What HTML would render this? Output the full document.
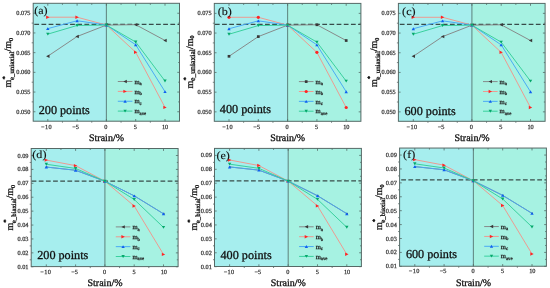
<!DOCTYPE html>
<html><head><meta charset="utf-8"><style>
html,body{margin:0;padding:0;background:#fff;overflow:hidden;}
svg{display:block;will-change:transform;}
text{font-family:"Liberation Serif",serif;fill:#111;text-rendering:geometricPrecision;}
.tl{font-size:6.3px;fill:#3c3c3c;stroke:#3c3c3c;stroke-width:0.25px;}
.pl{font-size:11px;stroke:#111;stroke-width:0.12px;}
.pt{font-size:12.2px;stroke:#111;stroke-width:0.3px;}
.lg{font-size:6.6px;fill:#222;stroke:#222;stroke-width:0.25px;}
.sb{font-size:4.8px;}
.al{font-size:10px;fill:#111;stroke:#111;stroke-width:0.3px;}
.sup{font-size:6.5px;}
.sb2{font-size:6.5px;}
</style></head>
<body><svg width="550" height="288" viewBox="0 0 550 288">
<rect width="550" height="288" fill="#fff"/>
<rect x="33.2" y="3.3" width="73.2" height="117.9" fill="#a6eeee"/>
<rect x="106.4" y="3.3" width="73.1" height="117.9" fill="#a6f2e2"/>
<line x1="106.4" y1="3.3" x2="106.4" y2="121.2" stroke="#628b86" stroke-width="1.1"/>
<line x1="34.3" y1="24.4" x2="179.5" y2="24.4" stroke="#384c4a" stroke-width="1.25" stroke-dasharray="4.76 2.4"/>
<path d="M47.8 121.2v-2.2M47.8 3.3v2.4M77.1 121.2v-2.2M77.1 3.3v2.4M106.4 121.2v-2.2M106.4 3.3v2.4M135.7 121.2v-2.2M135.7 3.3v2.4M165 121.2v-2.2M165 3.3v2.4M62.45 121.2v1.5M62.45 3.3v1.5M91.75 121.2v1.5M91.75 3.3v1.5M121.05 121.2v1.5M121.05 3.3v1.5M150.35 121.2v1.5M150.35 3.3v1.5M33.2 111.75h2.2M179.5 111.75h-2.2M33.2 92.05h2.2M179.5 92.05h-2.2M33.2 72.35h2.2M179.5 72.35h-2.2M33.2 52.65h2.2M179.5 52.65h-2.2M33.2 32.95h2.2M179.5 32.95h-2.2M33.2 13.25h2.2M179.5 13.25h-2.2M33.2 101.9h-1.5M179.5 101.9h-1.3M33.2 82.2h-1.5M179.5 82.2h-1.3M33.2 62.5h-1.5M179.5 62.5h-1.3M33.2 42.8h-1.5M179.5 42.8h-1.3M33.2 23.1h-1.5M179.5 23.1h-1.3" stroke="#566966" stroke-width="0.8" fill="none"/>
<polyline points="47.8,56.2 77.1,36.5 106.4,25.07 135.7,24.68 165,40.44" fill="none" stroke="#858585" stroke-width="0.95"/>
<path d="M46.1 56.2L49.5 54.5L49.5 57.9Z" fill="#383838"/>
<path d="M75.4 36.5L78.8 34.8L78.8 38.2Z" fill="#383838"/>
<path d="M104.7 25.07L108.1 23.37L108.1 26.77Z" fill="#383838"/>
<path d="M134 24.68L137.4 22.98L137.4 26.38Z" fill="#383838"/>
<path d="M163.3 40.44L166.7 38.74L166.7 42.14Z" fill="#383838"/>
<polyline points="47.8,17.19 77.1,17.19 106.4,25.07 135.7,52.26 165,107.42" fill="none" stroke="#f0968c" stroke-width="0.95"/>
<path d="M49.5 17.19L46.1 15.49L46.1 18.89Z" fill="#ff2424"/>
<path d="M78.8 17.19L75.4 15.49L75.4 18.89Z" fill="#ff2424"/>
<path d="M108.1 25.07L104.7 23.37L104.7 26.77Z" fill="#ff2424"/>
<path d="M137.4 52.26L134 50.56L134 53.96Z" fill="#ff2424"/>
<path d="M166.7 107.42L163.3 105.72L163.3 109.12Z" fill="#ff2424"/>
<polyline points="47.8,28.62 77.1,20.74 106.4,25.07 135.7,44.77 165,91.66" fill="none" stroke="#44a6f4" stroke-width="0.95"/>
<path d="M47.8 27.17L49.5 30.07L46.1 30.07Z" fill="#1060f0"/>
<path d="M77.1 19.29L78.8 22.19L75.4 22.19Z" fill="#1060f0"/>
<path d="M106.4 23.62L108.1 26.52L104.7 26.52Z" fill="#1060f0"/>
<path d="M135.7 43.32L137.4 46.22L134 46.22Z" fill="#1060f0"/>
<path d="M165 90.21L166.7 93.11L163.3 93.11Z" fill="#1060f0"/>
<polyline points="47.8,34.13 77.1,25.46 106.4,25.07 135.7,42.01 165,81.02" fill="none" stroke="#34cf9a" stroke-width="0.95"/>
<path d="M47.8 35.58L49.5 32.68L46.1 32.68Z" fill="#05a86a"/>
<path d="M77.1 26.91L78.8 24.01L75.4 24.01Z" fill="#05a86a"/>
<path d="M106.4 26.52L108.1 23.62L104.7 23.62Z" fill="#05a86a"/>
<path d="M135.7 43.46L137.4 40.56L134 40.56Z" fill="#05a86a"/>
<path d="M165 82.47L166.7 79.57L163.3 79.57Z" fill="#05a86a"/>
<rect x="33.2" y="3.3" width="146.3" height="117.9" fill="none" stroke="#566966" stroke-width="1"/>
<text x="34.22" y="13.83" class="pl" textLength="13.43" lengthAdjust="spacingAndGlyphs">(a)</text>
<text x="38.7" y="113.7" class="pt">200 points</text>
<line x1="117.8" y1="81.5" x2="132.4" y2="81.5" stroke="#858585" stroke-width="0.95"/>
<path d="M123.4 81.5L126.8 79.8L126.8 83.2Z" fill="#383838"/>
<text x="134.4" y="83.7" class="lg">m<tspan class="sb" dy="1.6">a</tspan></text>
<line x1="117.8" y1="91.4" x2="132.4" y2="91.4" stroke="#f0968c" stroke-width="0.95"/>
<path d="M126.8 91.4L123.4 89.7L123.4 93.1Z" fill="#ff2424"/>
<text x="134.4" y="93.6" class="lg">m<tspan class="sb" dy="1.6">b</tspan></text>
<line x1="117.8" y1="101.25" x2="132.4" y2="101.25" stroke="#44a6f4" stroke-width="0.95"/>
<path d="M125.1 99.8L126.8 102.7L123.4 102.7Z" fill="#1060f0"/>
<text x="134.4" y="103.45" class="lg">m<tspan class="sb" dy="1.6">c</tspan></text>
<line x1="117.8" y1="111.1" x2="132.4" y2="111.1" stroke="#34cf9a" stroke-width="0.95"/>
<path d="M125.1 112.55L126.8 109.65L123.4 109.65Z" fill="#05a86a"/>
<text x="134.4" y="113.3" class="lg">m<tspan class="sb" dy="1.6">ave</tspan></text>
<text x="30.5" y="113.75" class="tl" text-anchor="end">0.050</text>
<text x="30.5" y="94.05" class="tl" text-anchor="end">0.055</text>
<text x="30.5" y="74.35" class="tl" text-anchor="end">0.060</text>
<text x="30.5" y="54.65" class="tl" text-anchor="end">0.065</text>
<text x="30.5" y="34.95" class="tl" text-anchor="end">0.070</text>
<text x="30.5" y="15.25" class="tl" text-anchor="end">0.075</text>
<text x="46.45" y="129.1" class="tl" text-anchor="middle" style="letter-spacing:0.35px">−10</text>
<text x="75.5" y="129.1" class="tl" text-anchor="middle">−5</text>
<text x="105.95" y="129.1" class="tl" text-anchor="middle">0</text>
<text x="135.45" y="129.1" class="tl" text-anchor="middle">5</text>
<text x="165.1" y="129.1" class="tl" text-anchor="middle">10</text>
<text x="106.5" y="140.6" class="al" text-anchor="middle">Strain/%</text>
<text transform="translate(11.2,87.4) rotate(-90)" class="al">m<tspan style="font-size:6.8px" dy="-4.7">*</tspan><tspan style="font-size:6.85px" dy="7.5" dx="-3.8">e_uniaxial</tspan><tspan dy="-2.8">/m</tspan><tspan style="font-size:6px" dy="1.8">0</tspan></text>
<rect x="214.3" y="3.4" width="73.3" height="117.9" fill="#a6eeee"/>
<rect x="287.6" y="3.4" width="73.3" height="117.9" fill="#a6f2e2"/>
<line x1="287.6" y1="3.4" x2="287.6" y2="121.3" stroke="#628b86" stroke-width="1.1"/>
<line x1="214.9" y1="24.4" x2="360.9" y2="24.4" stroke="#384c4a" stroke-width="1.25" stroke-dasharray="4.76 2.4"/>
<path d="M229 121.3v-2.2M229 3.4v2.4M258.3 121.3v-2.2M258.3 3.4v2.4M287.6 121.3v-2.2M287.6 3.4v2.4M316.9 121.3v-2.2M316.9 3.4v2.4M346.2 121.3v-2.2M346.2 3.4v2.4M243.65 121.3v1.5M243.65 3.4v1.5M272.95 121.3v1.5M272.95 3.4v1.5M302.25 121.3v1.5M302.25 3.4v1.5M331.55 121.3v1.5M331.55 3.4v1.5M214.3 111.85h2.2M360.9 111.85h-2.2M214.3 92.15h2.2M360.9 92.15h-2.2M214.3 72.45h2.2M360.9 72.45h-2.2M214.3 52.75h2.2M360.9 52.75h-2.2M214.3 33.05h2.2M360.9 33.05h-2.2M214.3 13.35h2.2M360.9 13.35h-2.2M214.3 102h-1.5M360.9 102h-1.3M214.3 82.3h-1.5M360.9 82.3h-1.3M214.3 62.6h-1.5M360.9 62.6h-1.3M214.3 42.9h-1.5M360.9 42.9h-1.3M214.3 23.2h-1.5M360.9 23.2h-1.3" stroke="#566966" stroke-width="0.8" fill="none"/>
<polyline points="229,56.3 258.3,36.6 287.6,25.17 316.9,24.78 346.2,40.54" fill="none" stroke="#858585" stroke-width="0.95"/>
<rect x="227.65" y="54.95" width="2.7" height="2.7" fill="#383838"/>
<rect x="256.95" y="35.25" width="2.7" height="2.7" fill="#383838"/>
<rect x="286.25" y="23.82" width="2.7" height="2.7" fill="#383838"/>
<rect x="315.55" y="23.43" width="2.7" height="2.7" fill="#383838"/>
<rect x="344.85" y="39.19" width="2.7" height="2.7" fill="#383838"/>
<polyline points="229,17.29 258.3,17.29 287.6,25.17 316.9,52.36 346.2,107.52" fill="none" stroke="#f0968c" stroke-width="0.95"/>
<circle cx="229" cy="17.29" r="1.6" fill="#ff2424"/>
<circle cx="258.3" cy="17.29" r="1.6" fill="#ff2424"/>
<circle cx="287.6" cy="25.17" r="1.6" fill="#ff2424"/>
<circle cx="316.9" cy="52.36" r="1.6" fill="#ff2424"/>
<circle cx="346.2" cy="107.52" r="1.6" fill="#ff2424"/>
<polyline points="229,28.72 258.3,20.84 287.6,25.17 316.9,44.87 346.2,91.76" fill="none" stroke="#44a6f4" stroke-width="0.95"/>
<path d="M229 27.27L230.7 30.17L227.3 30.17Z" fill="#1060f0"/>
<path d="M258.3 19.39L260 22.29L256.6 22.29Z" fill="#1060f0"/>
<path d="M287.6 23.72L289.3 26.62L285.9 26.62Z" fill="#1060f0"/>
<path d="M316.9 43.42L318.6 46.32L315.2 46.32Z" fill="#1060f0"/>
<path d="M346.2 90.31L347.9 93.21L344.5 93.21Z" fill="#1060f0"/>
<polyline points="229,34.23 258.3,25.56 287.6,25.17 316.9,42.11 346.2,81.12" fill="none" stroke="#34cf9a" stroke-width="0.95"/>
<path d="M229 35.68L230.7 32.78L227.3 32.78Z" fill="#05a86a"/>
<path d="M258.3 27.01L260 24.11L256.6 24.11Z" fill="#05a86a"/>
<path d="M287.6 26.62L289.3 23.72L285.9 23.72Z" fill="#05a86a"/>
<path d="M316.9 43.56L318.6 40.66L315.2 40.66Z" fill="#05a86a"/>
<path d="M346.2 82.57L347.9 79.67L344.5 79.67Z" fill="#05a86a"/>
<rect x="214.3" y="3.4" width="146.6" height="117.9" fill="none" stroke="#566966" stroke-width="1"/>
<text x="217.72" y="15.23" class="pl" textLength="14.11" lengthAdjust="spacingAndGlyphs">(b)</text>
<text x="219.8" y="112.6" class="pt">400 points</text>
<line x1="298.9" y1="81.6" x2="313.5" y2="81.6" stroke="#858585" stroke-width="0.95"/>
<rect x="304.85" y="80.25" width="2.7" height="2.7" fill="#383838"/>
<text x="315.5" y="83.8" class="lg">m<tspan class="sb" dy="1.6">a</tspan></text>
<line x1="298.9" y1="91.5" x2="313.5" y2="91.5" stroke="#f0968c" stroke-width="0.95"/>
<circle cx="306.2" cy="91.5" r="1.6" fill="#ff2424"/>
<text x="315.5" y="93.7" class="lg">m<tspan class="sb" dy="1.6">b</tspan></text>
<line x1="298.9" y1="101.35" x2="313.5" y2="101.35" stroke="#44a6f4" stroke-width="0.95"/>
<path d="M306.2 99.9L307.9 102.8L304.5 102.8Z" fill="#1060f0"/>
<text x="315.5" y="103.55" class="lg">m<tspan class="sb" dy="1.6">c</tspan></text>
<line x1="298.9" y1="111.2" x2="313.5" y2="111.2" stroke="#34cf9a" stroke-width="0.95"/>
<path d="M306.2 112.65L307.9 109.75L304.5 109.75Z" fill="#05a86a"/>
<text x="315.5" y="113.4" class="lg">m<tspan class="sb" dy="1.6">ave</tspan></text>
<text x="211.6" y="113.85" class="tl" text-anchor="end">0.050</text>
<text x="211.6" y="94.15" class="tl" text-anchor="end">0.055</text>
<text x="211.6" y="74.45" class="tl" text-anchor="end">0.060</text>
<text x="211.6" y="54.75" class="tl" text-anchor="end">0.065</text>
<text x="211.6" y="35.05" class="tl" text-anchor="end">0.070</text>
<text x="211.6" y="15.35" class="tl" text-anchor="end">0.075</text>
<text x="227.65" y="129.2" class="tl" text-anchor="middle" style="letter-spacing:0.35px">−10</text>
<text x="256.7" y="129.2" class="tl" text-anchor="middle">−5</text>
<text x="287.15" y="129.2" class="tl" text-anchor="middle">0</text>
<text x="316.65" y="129.2" class="tl" text-anchor="middle">5</text>
<text x="346.3" y="129.2" class="tl" text-anchor="middle">10</text>
<text x="287.7" y="140.7" class="al" text-anchor="middle">Strain/%</text>
<text transform="translate(192.6,88.4) rotate(-90)" class="al">m<tspan style="font-size:6.8px" dy="-4.7">*</tspan><tspan style="font-size:7.7px" dy="7.5" dx="-3.8">e_uniaxial</tspan><tspan dy="-2.8">/m</tspan><tspan style="font-size:6px" dy="1.8">0</tspan></text>
<rect x="398.4" y="3.4" width="73.5" height="117.9" fill="#a6eeee"/>
<rect x="471.9" y="3.4" width="73.2" height="117.9" fill="#a6f2e2"/>
<line x1="471.9" y1="3.4" x2="471.9" y2="121.3" stroke="#628b86" stroke-width="1.1"/>
<line x1="399.8" y1="24.3" x2="545.1" y2="24.3" stroke="#384c4a" stroke-width="1.25" stroke-dasharray="4.76 2.4"/>
<path d="M413.3 121.3v-2.2M413.3 3.4v2.4M442.6 121.3v-2.2M442.6 3.4v2.4M471.9 121.3v-2.2M471.9 3.4v2.4M501.2 121.3v-2.2M501.2 3.4v2.4M530.5 121.3v-2.2M530.5 3.4v2.4M427.95 121.3v1.5M427.95 3.4v1.5M457.25 121.3v1.5M457.25 3.4v1.5M486.55 121.3v1.5M486.55 3.4v1.5M515.85 121.3v1.5M515.85 3.4v1.5M398.4 111.85h2.2M545.1 111.85h-2.2M398.4 92.15h2.2M545.1 92.15h-2.2M398.4 72.45h2.2M545.1 72.45h-2.2M398.4 52.75h2.2M545.1 52.75h-2.2M398.4 33.05h2.2M545.1 33.05h-2.2M398.4 13.35h2.2M545.1 13.35h-2.2M398.4 102h-1.5M545.1 102h-1.3M398.4 82.3h-1.5M545.1 82.3h-1.3M398.4 62.6h-1.5M545.1 62.6h-1.3M398.4 42.9h-1.5M545.1 42.9h-1.3M398.4 23.2h-1.5M545.1 23.2h-1.3" stroke="#566966" stroke-width="0.8" fill="none"/>
<polyline points="413.3,56.3 442.6,36.6 471.9,25.17 501.2,24.78 530.5,40.54" fill="none" stroke="#858585" stroke-width="0.95"/>
<path d="M411.6 56.3L415 54.6L415 58Z" fill="#383838"/>
<path d="M440.9 36.6L444.3 34.9L444.3 38.3Z" fill="#383838"/>
<path d="M470.2 25.17L473.6 23.47L473.6 26.87Z" fill="#383838"/>
<path d="M499.5 24.78L502.9 23.08L502.9 26.48Z" fill="#383838"/>
<path d="M528.8 40.54L532.2 38.84L532.2 42.24Z" fill="#383838"/>
<polyline points="413.3,17.29 442.6,17.29 471.9,25.17 501.2,52.36 530.5,107.52" fill="none" stroke="#f0968c" stroke-width="0.95"/>
<path d="M415 17.29L411.6 15.59L411.6 18.99Z" fill="#ff2424"/>
<path d="M444.3 17.29L440.9 15.59L440.9 18.99Z" fill="#ff2424"/>
<path d="M473.6 25.17L470.2 23.47L470.2 26.87Z" fill="#ff2424"/>
<path d="M502.9 52.36L499.5 50.66L499.5 54.06Z" fill="#ff2424"/>
<path d="M532.2 107.52L528.8 105.82L528.8 109.22Z" fill="#ff2424"/>
<polyline points="413.3,28.72 442.6,20.84 471.9,25.17 501.2,44.87 530.5,91.76" fill="none" stroke="#44a6f4" stroke-width="0.95"/>
<path d="M413.3 27.27L415 30.17L411.6 30.17Z" fill="#1060f0"/>
<path d="M442.6 19.39L444.3 22.29L440.9 22.29Z" fill="#1060f0"/>
<path d="M471.9 23.72L473.6 26.62L470.2 26.62Z" fill="#1060f0"/>
<path d="M501.2 43.42L502.9 46.32L499.5 46.32Z" fill="#1060f0"/>
<path d="M530.5 90.31L532.2 93.21L528.8 93.21Z" fill="#1060f0"/>
<polyline points="413.3,34.23 442.6,25.56 471.9,25.17 501.2,42.11 530.5,81.12" fill="none" stroke="#34cf9a" stroke-width="0.95"/>
<path d="M413.3 35.68L415 32.78L411.6 32.78Z" fill="#05a86a"/>
<path d="M442.6 27.01L444.3 24.11L440.9 24.11Z" fill="#05a86a"/>
<path d="M471.9 26.62L473.6 23.72L470.2 23.72Z" fill="#05a86a"/>
<path d="M501.2 43.56L502.9 40.66L499.5 40.66Z" fill="#05a86a"/>
<path d="M530.5 82.57L532.2 79.67L528.8 79.67Z" fill="#05a86a"/>
<rect x="398.4" y="3.4" width="146.7" height="117.9" fill="none" stroke="#566966" stroke-width="1"/>
<text x="402.12" y="14.83" class="pl" textLength="13.43" lengthAdjust="spacingAndGlyphs">(c)</text>
<text x="404.5" y="115.2" class="pt">600 points</text>
<line x1="483" y1="81.6" x2="497.6" y2="81.6" stroke="#858585" stroke-width="0.95"/>
<path d="M488.6 81.6L492 79.9L492 83.3Z" fill="#383838"/>
<text x="499.6" y="83.8" class="lg">m<tspan class="sb" dy="1.6">a</tspan></text>
<line x1="483" y1="91.5" x2="497.6" y2="91.5" stroke="#f0968c" stroke-width="0.95"/>
<path d="M492 91.5L488.6 89.8L488.6 93.2Z" fill="#ff2424"/>
<text x="499.6" y="93.7" class="lg">m<tspan class="sb" dy="1.6">b</tspan></text>
<line x1="483" y1="101.35" x2="497.6" y2="101.35" stroke="#44a6f4" stroke-width="0.95"/>
<path d="M490.3 99.9L492 102.8L488.6 102.8Z" fill="#1060f0"/>
<text x="499.6" y="103.55" class="lg">m<tspan class="sb" dy="1.6">c</tspan></text>
<line x1="483" y1="111.2" x2="497.6" y2="111.2" stroke="#34cf9a" stroke-width="0.95"/>
<path d="M490.3 112.65L492 109.75L488.6 109.75Z" fill="#05a86a"/>
<text x="499.6" y="113.4" class="lg">m<tspan class="sb" dy="1.6">ave</tspan></text>
<text x="395.7" y="113.85" class="tl" text-anchor="end">0.050</text>
<text x="395.7" y="94.15" class="tl" text-anchor="end">0.055</text>
<text x="395.7" y="74.45" class="tl" text-anchor="end">0.060</text>
<text x="395.7" y="54.75" class="tl" text-anchor="end">0.065</text>
<text x="395.7" y="35.05" class="tl" text-anchor="end">0.070</text>
<text x="395.7" y="15.35" class="tl" text-anchor="end">0.075</text>
<text x="411.95" y="129.2" class="tl" text-anchor="middle" style="letter-spacing:0.35px">−10</text>
<text x="441" y="129.2" class="tl" text-anchor="middle">−5</text>
<text x="471.45" y="129.2" class="tl" text-anchor="middle">0</text>
<text x="500.95" y="129.2" class="tl" text-anchor="middle">5</text>
<text x="530.6" y="129.2" class="tl" text-anchor="middle">10</text>
<text x="472" y="140.7" class="al" text-anchor="middle">Strain/%</text>
<text transform="translate(376.7,87.1) rotate(-90)" class="al">m<tspan style="font-size:6.8px" dy="-4.7">*</tspan><tspan style="font-size:6.85px" dy="7.5" dx="-3.8">e_uniaxial</tspan><tspan dy="-2.8">/m</tspan><tspan style="font-size:6px" dy="1.8">0</tspan></text>
<rect x="31.2" y="148.5" width="73.7" height="118.1" fill="#a6eeee"/>
<rect x="104.9" y="148.5" width="73.2" height="118.1" fill="#a6f2e2"/>
<line x1="104.9" y1="148.5" x2="104.9" y2="266.6" stroke="#628b86" stroke-width="1.1"/>
<line x1="31.6" y1="181" x2="178.1" y2="181" stroke="#384c4a" stroke-width="1.25" stroke-dasharray="4.76 2.4"/>
<path d="M46.3 266.6v-2.2M46.3 148.5v2.4M75.6 266.6v-2.2M75.6 148.5v2.4M104.9 266.6v-2.2M104.9 148.5v2.4M134.2 266.6v-2.2M134.2 148.5v2.4M163.5 266.6v-2.2M163.5 148.5v2.4M60.95 266.6v1.5M60.95 148.5v1.5M90.25 266.6v1.5M90.25 148.5v1.5M119.55 266.6v1.5M119.55 148.5v1.5M148.85 266.6v1.5M148.85 148.5v1.5M31.2 266.78h2.2M178.1 266.78h-2.2M31.2 252.87h2.2M178.1 252.87h-2.2M31.2 238.96h2.2M178.1 238.96h-2.2M31.2 225.05h2.2M178.1 225.05h-2.2M31.2 211.14h2.2M178.1 211.14h-2.2M31.2 197.23h2.2M178.1 197.23h-2.2M31.2 183.32h2.2M178.1 183.32h-2.2M31.2 169.41h2.2M178.1 169.41h-2.2M31.2 155.5h2.2M178.1 155.5h-2.2M31.2 259.82h-1.5M178.1 259.82h-1.3M31.2 245.92h-1.5M178.1 245.92h-1.3M31.2 232h-1.5M178.1 232h-1.3M31.2 218.09h-1.5M178.1 218.09h-1.3M31.2 204.19h-1.5M178.1 204.19h-1.3M31.2 190.27h-1.5M178.1 190.27h-1.3M31.2 176.37h-1.5M178.1 176.37h-1.3M31.2 162.45h-1.5M178.1 162.45h-1.3" stroke="#566966" stroke-width="0.8" fill="none"/>
<polyline points="46.3,167.05 75.6,170.24 104.9,181.23 134.2,195.84 163.5,213.78" fill="none" stroke="#858585" stroke-width="0.95"/>
<path d="M45.37 167.05L47.24 166.11L47.24 167.98Z" fill="#383838"/>
<path d="M74.67 170.24L76.54 169.31L76.54 171.18Z" fill="#383838"/>
<path d="M103.97 181.23L105.84 180.3L105.84 182.17Z" fill="#383838"/>
<path d="M133.27 195.84L135.14 194.9L135.14 196.77Z" fill="#383838"/>
<path d="M162.56 213.78L164.44 212.85L164.44 214.72Z" fill="#383838"/>
<polyline points="46.3,160.09 75.6,165.65 104.9,181.23 134.2,205.99 163.5,254.4" fill="none" stroke="#f0968c" stroke-width="0.95"/>
<path d="M48 160.09L44.6 158.39L44.6 161.79Z" fill="#ff2424"/>
<path d="M77.3 165.65L73.9 163.95L73.9 167.35Z" fill="#ff2424"/>
<path d="M106.6 181.23L103.2 179.53L103.2 182.93Z" fill="#ff2424"/>
<path d="M135.9 205.99L132.5 204.29L132.5 207.69Z" fill="#ff2424"/>
<path d="M165.2 254.4L161.8 252.7L161.8 256.1Z" fill="#ff2424"/>
<polyline points="46.3,167.05 75.6,170.24 104.9,181.23 134.2,195.84 163.5,213.78" fill="none" stroke="#44a6f4" stroke-width="0.95"/>
<path d="M46.3 165.6L48 168.5L44.6 168.5Z" fill="#1060f0"/>
<path d="M75.6 168.79L77.3 171.69L73.9 171.69Z" fill="#1060f0"/>
<path d="M104.9 179.78L106.6 182.68L103.2 182.68Z" fill="#1060f0"/>
<path d="M134.2 194.39L135.9 197.29L132.5 197.29Z" fill="#1060f0"/>
<path d="M163.5 212.33L165.2 215.23L161.8 215.23Z" fill="#1060f0"/>
<polyline points="46.3,164.26 75.6,168.44 104.9,181.23 134.2,199.46 163.5,227.41" fill="none" stroke="#34cf9a" stroke-width="0.95"/>
<path d="M46.3 165.71L48 162.81L44.6 162.81Z" fill="#05a86a"/>
<path d="M75.6 169.89L77.3 166.99L73.9 166.99Z" fill="#05a86a"/>
<path d="M104.9 182.68L106.6 179.78L103.2 179.78Z" fill="#05a86a"/>
<path d="M134.2 200.91L135.9 198.01L132.5 198.01Z" fill="#05a86a"/>
<path d="M163.5 228.86L165.2 225.96L161.8 225.96Z" fill="#05a86a"/>
<rect x="31.2" y="148.5" width="146.9" height="118.1" fill="none" stroke="#566966" stroke-width="1"/>
<text x="32.32" y="157.83" class="pl" textLength="14.11" lengthAdjust="spacingAndGlyphs">(d)</text>
<text x="37.2" y="258.8" class="pt">200 points</text>
<line x1="115.8" y1="226.9" x2="130.4" y2="226.9" stroke="#858585" stroke-width="0.95"/>
<path d="M121.4 226.9L124.8 225.2L124.8 228.6Z" fill="#383838"/>
<text x="132.4" y="229.1" class="lg">m<tspan class="sb" dy="1.6">a</tspan></text>
<line x1="115.8" y1="236.8" x2="130.4" y2="236.8" stroke="#f0968c" stroke-width="0.95"/>
<path d="M124.8 236.8L121.4 235.1L121.4 238.5Z" fill="#ff2424"/>
<text x="132.4" y="239" class="lg">m<tspan class="sb" dy="1.6">b</tspan></text>
<line x1="115.8" y1="246.65" x2="130.4" y2="246.65" stroke="#44a6f4" stroke-width="0.95"/>
<path d="M123.1 245.2L124.8 248.1L121.4 248.1Z" fill="#1060f0"/>
<text x="132.4" y="248.85" class="lg">m<tspan class="sb" dy="1.6">c</tspan></text>
<line x1="115.8" y1="256.5" x2="130.4" y2="256.5" stroke="#34cf9a" stroke-width="0.95"/>
<path d="M123.1 257.95L124.8 255.05L121.4 255.05Z" fill="#05a86a"/>
<text x="132.4" y="258.7" class="lg">m<tspan class="sb" dy="1.6">ave</tspan></text>
<text x="28.5" y="268.78" class="tl" text-anchor="end">0.01</text>
<text x="28.5" y="254.87" class="tl" text-anchor="end">0.02</text>
<text x="28.5" y="240.96" class="tl" text-anchor="end">0.03</text>
<text x="28.5" y="227.05" class="tl" text-anchor="end">0.04</text>
<text x="28.5" y="213.14" class="tl" text-anchor="end">0.05</text>
<text x="28.5" y="199.23" class="tl" text-anchor="end">0.06</text>
<text x="28.5" y="185.32" class="tl" text-anchor="end">0.07</text>
<text x="28.5" y="171.41" class="tl" text-anchor="end">0.08</text>
<text x="28.5" y="157.5" class="tl" text-anchor="end">0.09</text>
<text x="45.8" y="273.8" class="tl" text-anchor="middle" style="letter-spacing:0.35px">−10</text>
<text x="74.55" y="273.8" class="tl" text-anchor="middle">−5</text>
<text x="104.55" y="273.8" class="tl" text-anchor="middle">0</text>
<text x="134" y="273.8" class="tl" text-anchor="middle">5</text>
<text x="163.8" y="273.8" class="tl" text-anchor="middle">10</text>
<text x="105" y="286" class="al" text-anchor="middle">Strain/%</text>
<text transform="translate(13,230.6) rotate(-90)" class="al">m<tspan style="font-size:6.8px" dy="-4.7">*</tspan><tspan style="font-size:6.75px" dy="7.5" dx="-3.8">e_biaxial</tspan><tspan dy="-2.8">/m</tspan><tspan style="font-size:6px" dy="1.8">0</tspan></text>
<rect x="214.5" y="148.4" width="73.7" height="118.1" fill="#a6eeee"/>
<rect x="288.2" y="148.4" width="73.2" height="118.1" fill="#a6f2e2"/>
<line x1="288.2" y1="148.4" x2="288.2" y2="266.5" stroke="#628b86" stroke-width="1.1"/>
<line x1="215.2" y1="180.85" x2="361.4" y2="180.85" stroke="#384c4a" stroke-width="1.25" stroke-dasharray="4.76 2.4"/>
<path d="M229.6 266.5v-2.2M229.6 148.4v2.4M258.9 266.5v-2.2M258.9 148.4v2.4M288.2 266.5v-2.2M288.2 148.4v2.4M317.5 266.5v-2.2M317.5 148.4v2.4M346.8 266.5v-2.2M346.8 148.4v2.4M244.25 266.5v1.5M244.25 148.4v1.5M273.55 266.5v1.5M273.55 148.4v1.5M302.85 266.5v1.5M302.85 148.4v1.5M332.15 266.5v1.5M332.15 148.4v1.5M214.5 266.68h2.2M361.4 266.68h-2.2M214.5 252.77h2.2M361.4 252.77h-2.2M214.5 238.86h2.2M361.4 238.86h-2.2M214.5 224.95h2.2M361.4 224.95h-2.2M214.5 211.04h2.2M361.4 211.04h-2.2M214.5 197.13h2.2M361.4 197.13h-2.2M214.5 183.22h2.2M361.4 183.22h-2.2M214.5 169.31h2.2M361.4 169.31h-2.2M214.5 155.4h2.2M361.4 155.4h-2.2M214.5 259.73h-1.5M361.4 259.73h-1.3M214.5 245.81h-1.5M361.4 245.81h-1.3M214.5 231.91h-1.5M361.4 231.91h-1.3M214.5 218h-1.5M361.4 218h-1.3M214.5 204.09h-1.5M361.4 204.09h-1.3M214.5 190.18h-1.5M361.4 190.18h-1.3M214.5 176.27h-1.5M361.4 176.27h-1.3M214.5 162.35h-1.5M361.4 162.35h-1.3" stroke="#566966" stroke-width="0.8" fill="none"/>
<polyline points="229.6,166.95 258.9,170.14 288.2,181.13 317.5,195.74 346.8,213.68" fill="none" stroke="#858585" stroke-width="0.95"/>
<path d="M228.66 166.95L230.53 166.01L230.53 167.88Z" fill="#383838"/>
<path d="M257.96 170.14L259.83 169.21L259.83 171.08Z" fill="#383838"/>
<path d="M287.26 181.13L289.13 180.2L289.13 182.07Z" fill="#383838"/>
<path d="M316.56 195.74L318.44 194.8L318.44 196.67Z" fill="#383838"/>
<path d="M345.87 213.68L347.74 212.75L347.74 214.62Z" fill="#383838"/>
<polyline points="229.6,159.99 258.9,165.55 288.2,181.13 317.5,205.89 346.8,254.3" fill="none" stroke="#f0968c" stroke-width="0.95"/>
<path d="M231.3 159.99L227.9 158.29L227.9 161.69Z" fill="#ff2424"/>
<path d="M260.6 165.55L257.2 163.85L257.2 167.25Z" fill="#ff2424"/>
<path d="M289.9 181.13L286.5 179.43L286.5 182.83Z" fill="#ff2424"/>
<path d="M319.2 205.89L315.8 204.19L315.8 207.59Z" fill="#ff2424"/>
<path d="M348.5 254.3L345.1 252.6L345.1 256Z" fill="#ff2424"/>
<polyline points="229.6,166.95 258.9,170.14 288.2,181.13 317.5,195.74 346.8,213.68" fill="none" stroke="#44a6f4" stroke-width="0.95"/>
<path d="M229.6 165.5L231.3 168.4L227.9 168.4Z" fill="#1060f0"/>
<path d="M258.9 168.69L260.6 171.59L257.2 171.59Z" fill="#1060f0"/>
<path d="M288.2 179.68L289.9 182.58L286.5 182.58Z" fill="#1060f0"/>
<path d="M317.5 194.29L319.2 197.19L315.8 197.19Z" fill="#1060f0"/>
<path d="M346.8 212.23L348.5 215.13L345.1 215.13Z" fill="#1060f0"/>
<polyline points="229.6,164.16 258.9,168.34 288.2,181.13 317.5,199.36 346.8,227.31" fill="none" stroke="#34cf9a" stroke-width="0.95"/>
<path d="M229.6 165.61L231.3 162.71L227.9 162.71Z" fill="#05a86a"/>
<path d="M258.9 169.79L260.6 166.89L257.2 166.89Z" fill="#05a86a"/>
<path d="M288.2 182.58L289.9 179.68L286.5 179.68Z" fill="#05a86a"/>
<path d="M317.5 200.81L319.2 197.91L315.8 197.91Z" fill="#05a86a"/>
<path d="M346.8 228.76L348.5 225.86L345.1 225.86Z" fill="#05a86a"/>
<rect x="214.5" y="148.4" width="146.9" height="118.1" fill="none" stroke="#566966" stroke-width="1"/>
<text x="216.42" y="158.83" class="pl" textLength="13.43" lengthAdjust="spacingAndGlyphs">(e)</text>
<text x="220.5" y="259" class="pt">400 points</text>
<line x1="299.1" y1="226.8" x2="313.7" y2="226.8" stroke="#858585" stroke-width="0.95"/>
<path d="M304.7 226.8L308.1 225.1L308.1 228.5Z" fill="#383838"/>
<text x="315.7" y="229" class="lg">m<tspan class="sb" dy="1.6">a</tspan></text>
<line x1="299.1" y1="236.7" x2="313.7" y2="236.7" stroke="#f0968c" stroke-width="0.95"/>
<path d="M308.1 236.7L304.7 235L304.7 238.4Z" fill="#ff2424"/>
<text x="315.7" y="238.9" class="lg">m<tspan class="sb" dy="1.6">b</tspan></text>
<line x1="299.1" y1="246.55" x2="313.7" y2="246.55" stroke="#44a6f4" stroke-width="0.95"/>
<path d="M306.4 245.1L308.1 248L304.7 248Z" fill="#1060f0"/>
<text x="315.7" y="248.75" class="lg">m<tspan class="sb" dy="1.6">c</tspan></text>
<line x1="299.1" y1="256.4" x2="313.7" y2="256.4" stroke="#34cf9a" stroke-width="0.95"/>
<path d="M306.4 257.85L308.1 254.95L304.7 254.95Z" fill="#05a86a"/>
<text x="315.7" y="258.6" class="lg">m<tspan class="sb" dy="1.6">ave</tspan></text>
<text x="211.8" y="268.68" class="tl" text-anchor="end">0.01</text>
<text x="211.8" y="254.77" class="tl" text-anchor="end">0.02</text>
<text x="211.8" y="240.86" class="tl" text-anchor="end">0.03</text>
<text x="211.8" y="226.95" class="tl" text-anchor="end">0.04</text>
<text x="211.8" y="213.04" class="tl" text-anchor="end">0.05</text>
<text x="211.8" y="199.13" class="tl" text-anchor="end">0.06</text>
<text x="211.8" y="185.22" class="tl" text-anchor="end">0.07</text>
<text x="211.8" y="171.31" class="tl" text-anchor="end">0.08</text>
<text x="211.8" y="157.4" class="tl" text-anchor="end">0.09</text>
<text x="229.1" y="273.7" class="tl" text-anchor="middle" style="letter-spacing:0.35px">−10</text>
<text x="257.85" y="273.7" class="tl" text-anchor="middle">−5</text>
<text x="287.85" y="273.7" class="tl" text-anchor="middle">0</text>
<text x="317.3" y="273.7" class="tl" text-anchor="middle">5</text>
<text x="347.1" y="273.7" class="tl" text-anchor="middle">10</text>
<text x="288.3" y="285.9" class="al" text-anchor="middle">Strain/%</text>
<text transform="translate(196.7,230.6) rotate(-90)" class="al">m<tspan style="font-size:6.8px" dy="-4.7">*</tspan><tspan style="font-size:6.75px" dy="7.5" dx="-3.8">e_biaxial</tspan><tspan dy="-2.8">/m</tspan><tspan style="font-size:6px" dy="1.8">0</tspan></text>
<rect x="399.6" y="148.05" width="73.8" height="118.2" fill="#a6eeee"/>
<rect x="473.4" y="148.05" width="73" height="118.2" fill="#a6f2e2"/>
<line x1="473.4" y1="148.05" x2="473.4" y2="266.25" stroke="#628b86" stroke-width="1.1"/>
<line x1="401.2" y1="179.75" x2="546.4" y2="179.75" stroke="#384c4a" stroke-width="1.25" stroke-dasharray="4.76 2.4"/>
<path d="M414.8 266.25v-2.2M414.8 148.05v2.4M444.1 266.25v-2.2M444.1 148.05v2.4M473.4 266.25v-2.2M473.4 148.05v2.4M502.7 266.25v-2.2M502.7 148.05v2.4M532 266.25v-2.2M532 148.05v2.4M429.45 266.25v1.5M429.45 148.05v1.5M458.75 266.25v1.5M458.75 148.05v1.5M488.05 266.25v1.5M488.05 148.05v1.5M517.35 266.25v1.5M517.35 148.05v1.5M399.6 266.33h2.2M546.4 266.33h-2.2M399.6 252.42h2.2M546.4 252.42h-2.2M399.6 238.51h2.2M546.4 238.51h-2.2M399.6 224.6h2.2M546.4 224.6h-2.2M399.6 210.69h2.2M546.4 210.69h-2.2M399.6 196.78h2.2M546.4 196.78h-2.2M399.6 182.87h2.2M546.4 182.87h-2.2M399.6 168.96h2.2M546.4 168.96h-2.2M399.6 155.05h2.2M546.4 155.05h-2.2M399.6 259.38h-1.5M546.4 259.38h-1.3M399.6 245.47h-1.5M546.4 245.47h-1.3M399.6 231.56h-1.5M546.4 231.56h-1.3M399.6 217.65h-1.5M546.4 217.65h-1.3M399.6 203.74h-1.5M546.4 203.74h-1.3M399.6 189.82h-1.5M546.4 189.82h-1.3M399.6 175.92h-1.5M546.4 175.92h-1.3M399.6 162h-1.5M546.4 162h-1.3" stroke="#566966" stroke-width="0.8" fill="none"/>
<polyline points="414.8,166.6 444.1,169.79 473.4,180.78 502.7,195.39 532,213.33" fill="none" stroke="#858585" stroke-width="0.95"/>
<path d="M413.86 166.6L415.73 165.66L415.73 167.53Z" fill="#383838"/>
<path d="M443.16 169.79L445.03 168.86L445.03 170.73Z" fill="#383838"/>
<path d="M472.46 180.78L474.33 179.85L474.33 181.72Z" fill="#383838"/>
<path d="M501.76 195.39L503.63 194.45L503.63 196.32Z" fill="#383838"/>
<path d="M531.07 213.33L532.93 212.4L532.93 214.27Z" fill="#383838"/>
<polyline points="414.8,159.64 444.1,165.2 473.4,180.78 502.7,205.54 532,253.95" fill="none" stroke="#f0968c" stroke-width="0.95"/>
<path d="M416.5 159.64L413.1 157.94L413.1 161.34Z" fill="#ff2424"/>
<path d="M445.8 165.2L442.4 163.5L442.4 166.9Z" fill="#ff2424"/>
<path d="M475.1 180.78L471.7 179.08L471.7 182.48Z" fill="#ff2424"/>
<path d="M504.4 205.54L501 203.84L501 207.24Z" fill="#ff2424"/>
<path d="M533.7 253.95L530.3 252.25L530.3 255.65Z" fill="#ff2424"/>
<polyline points="414.8,166.6 444.1,169.79 473.4,180.78 502.7,195.39 532,213.33" fill="none" stroke="#44a6f4" stroke-width="0.95"/>
<path d="M414.8 165.15L416.5 168.05L413.1 168.05Z" fill="#1060f0"/>
<path d="M444.1 168.34L445.8 171.24L442.4 171.24Z" fill="#1060f0"/>
<path d="M473.4 179.33L475.1 182.23L471.7 182.23Z" fill="#1060f0"/>
<path d="M502.7 193.94L504.4 196.84L501 196.84Z" fill="#1060f0"/>
<path d="M532 211.88L533.7 214.78L530.3 214.78Z" fill="#1060f0"/>
<polyline points="414.8,163.81 444.1,167.99 473.4,180.78 502.7,199.01 532,226.96" fill="none" stroke="#34cf9a" stroke-width="0.95"/>
<path d="M414.8 165.26L416.5 162.36L413.1 162.36Z" fill="#05a86a"/>
<path d="M444.1 169.44L445.8 166.54L442.4 166.54Z" fill="#05a86a"/>
<path d="M473.4 182.23L475.1 179.33L471.7 179.33Z" fill="#05a86a"/>
<path d="M502.7 200.46L504.4 197.56L501 197.56Z" fill="#05a86a"/>
<path d="M532 228.41L533.7 225.51L530.3 225.51Z" fill="#05a86a"/>
<rect x="399.6" y="148.05" width="146.8" height="118.2" fill="none" stroke="#566966" stroke-width="1"/>
<text x="403.12" y="157.83" class="pl" textLength="12.09" lengthAdjust="spacingAndGlyphs">(f)</text>
<text x="405.9" y="258.45" class="pt">600 points</text>
<line x1="484.2" y1="226.55" x2="498.8" y2="226.55" stroke="#858585" stroke-width="0.95"/>
<path d="M489.8 226.55L493.2 224.85L493.2 228.25Z" fill="#383838"/>
<text x="500.8" y="228.75" class="lg">m<tspan class="sb" dy="1.6">a</tspan></text>
<line x1="484.2" y1="236.45" x2="498.8" y2="236.45" stroke="#f0968c" stroke-width="0.95"/>
<path d="M493.2 236.45L489.8 234.75L489.8 238.15Z" fill="#ff2424"/>
<text x="500.8" y="238.65" class="lg">m<tspan class="sb" dy="1.6">b</tspan></text>
<line x1="484.2" y1="246.3" x2="498.8" y2="246.3" stroke="#44a6f4" stroke-width="0.95"/>
<path d="M491.5 244.85L493.2 247.75L489.8 247.75Z" fill="#1060f0"/>
<text x="500.8" y="248.5" class="lg">m<tspan class="sb" dy="1.6">c</tspan></text>
<line x1="484.2" y1="256.15" x2="498.8" y2="256.15" stroke="#34cf9a" stroke-width="0.95"/>
<path d="M491.5 257.6L493.2 254.7L489.8 254.7Z" fill="#05a86a"/>
<text x="500.8" y="258.35" class="lg">m<tspan class="sb" dy="1.6">ave</tspan></text>
<text x="396.9" y="268.33" class="tl" text-anchor="end">0.01</text>
<text x="396.9" y="254.42" class="tl" text-anchor="end">0.02</text>
<text x="396.9" y="240.51" class="tl" text-anchor="end">0.03</text>
<text x="396.9" y="226.6" class="tl" text-anchor="end">0.04</text>
<text x="396.9" y="212.69" class="tl" text-anchor="end">0.05</text>
<text x="396.9" y="198.78" class="tl" text-anchor="end">0.06</text>
<text x="396.9" y="184.87" class="tl" text-anchor="end">0.07</text>
<text x="396.9" y="170.96" class="tl" text-anchor="end">0.08</text>
<text x="396.9" y="157.05" class="tl" text-anchor="end">0.09</text>
<text x="414.3" y="273.45" class="tl" text-anchor="middle" style="letter-spacing:0.35px">−10</text>
<text x="443.05" y="273.45" class="tl" text-anchor="middle">−5</text>
<text x="473.05" y="273.45" class="tl" text-anchor="middle">0</text>
<text x="502.5" y="273.45" class="tl" text-anchor="middle">5</text>
<text x="532.3" y="273.45" class="tl" text-anchor="middle">10</text>
<text x="473.5" y="285.65" class="al" text-anchor="middle">Strain/%</text>
<text transform="translate(381.7,230.1) rotate(-90)" class="al">m<tspan style="font-size:6.8px" dy="-4.7">*</tspan><tspan style="font-size:6.75px" dy="7.5" dx="-3.8">e_biaxial</tspan><tspan dy="-2.8">/m</tspan><tspan style="font-size:6px" dy="1.8">0</tspan></text>
</svg></body></html>
